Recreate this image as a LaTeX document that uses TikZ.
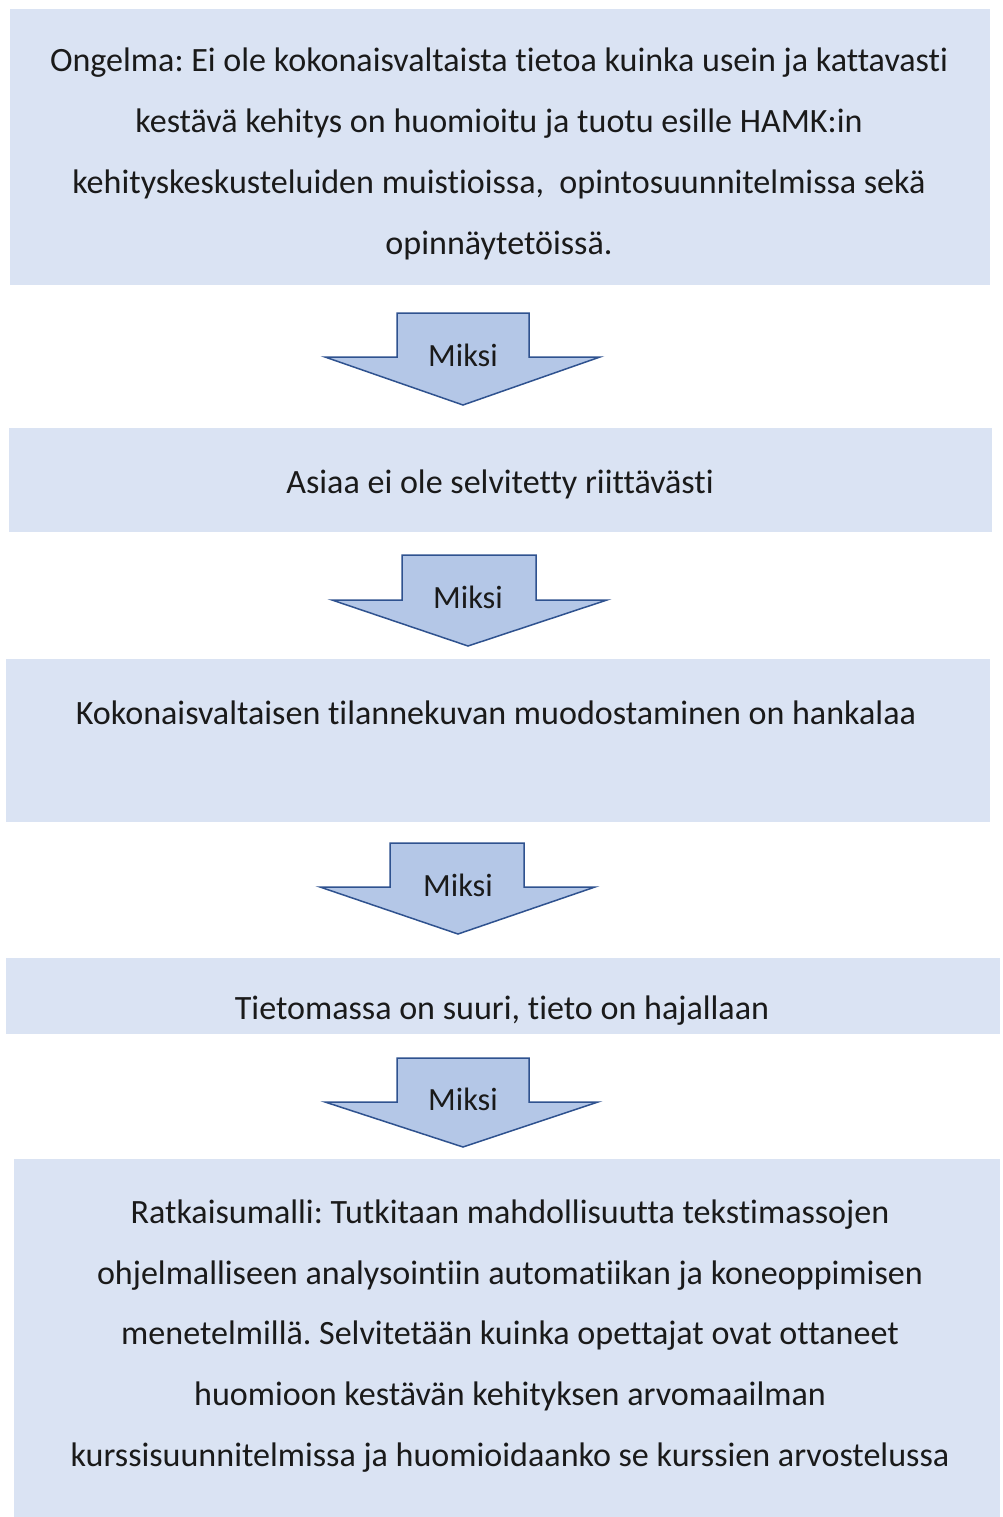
\documentclass[tikz,border=0pt]{standalone}
\usepackage{fontspec}
\setmainfont{Carlito}[Ligatures={NoCommon,NoRequired,NoContextual}]
\frenchspacing
\definecolor{boxfill}{HTML}{DAE3F3}
\definecolor{arrfill}{HTML}{B4C7E7}
\definecolor{arrline}{HTML}{2F528F}
\definecolor{txt}{HTML}{1A1A1A}
\begin{document}
\begin{tikzpicture}[x=1bp,y=-1bp,
  box/.style={fill=boxfill, draw=none, inner sep=0pt},
  txtnode/.style={text=txt, align=center, font=\fontsize{34.2}{61}\selectfont, inner sep=0pt},
  blockarrow/.style={fill=arrfill, draw=arrline, line width=1.5bp, line join=miter},
  lbl/.style={text=txt, font=\fontsize{32.5}{38}\selectfont, inner sep=0pt}]
\useasboundingbox[fill=white] (0,0) rectangle (1002,1517);
% boxes
\node[box, minimum width=980bp, minimum height=276bp] (b1) at (500,147) {};
\node[box, minimum width=983bp, minimum height=104bp] (b2) at (500.5,480) {};
\node[box, minimum width=984bp, minimum height=163bp] (b3) at (498,740.5) {};
\node[box, minimum width=994bp, minimum height=76bp] (b4) at (503,996) {};
\node[box, minimum width=986bp, minimum height=358bp] (b5) at (507,1338) {};
% texts
\node[txtnode] (t1) at (499,154) {Ongelma: Ei ole kokonaisvaltaista tietoa kuinka usein ja kattavasti\\
kestävä kehitys on huomioitu ja tuotu esille HAMK:in\\
kehityskeskusteluiden muistioissa,\ \ opintosuunnitelmissa sekä\\
opinnäytetöissä.};
\node[txtnode] (t2) at (500,484) {Asiaa ei ole selvitetty riittävästi};
\node[txtnode] (t3) at (496,713) {Kokonaisvaltaisen tilannekuvan muodostaminen on hankalaa};
\node[txtnode] (t4) at (502,1011) {Tietomassa on suuri, tieto on hajallaan};
\node[txtnode] (t5) at (510,1336) {Ratkaisumalli: Tutkitaan mahdollisuutta tekstimassojen\\
ohjelmalliseen analysointiin automatiikan ja koneoppimisen\\
menetelmillä. Selvitetään kuinka opettajat ovat ottaneet\\
huomioon kestävän kehityksen arvomaailman\\
kurssisuunnitelmissa ja huomioidaanko se kurssien arvostelussa};
% block arrows
\draw[blockarrow] (397,313) -- (529,313) -- (529,357) -- (600,357) -- (463,405) -- (325,357) -- (397,357) -- cycle;
\node[lbl] (m1) at (463,355) {Miksi};
\draw[blockarrow] (402,555) -- (536,555) -- (536,600) -- (607,600) -- (468,646) -- (332,600) -- (402,600) -- cycle;
\node[lbl] (m2) at (468,597) {Miksi};
\draw[blockarrow] (390,843) -- (524,843) -- (524,887) -- (595,887) -- (458,934) -- (320,887) -- (390,887) -- cycle;
\node[lbl] (m3) at (458,885) {Miksi};
\draw[blockarrow] (397,1058) -- (529,1058) -- (529,1102) -- (598,1102) -- (463,1147) -- (325,1102) -- (397,1102) -- cycle;
\node[lbl] (m4) at (463,1099) {Miksi};
\end{tikzpicture}
\end{document}
